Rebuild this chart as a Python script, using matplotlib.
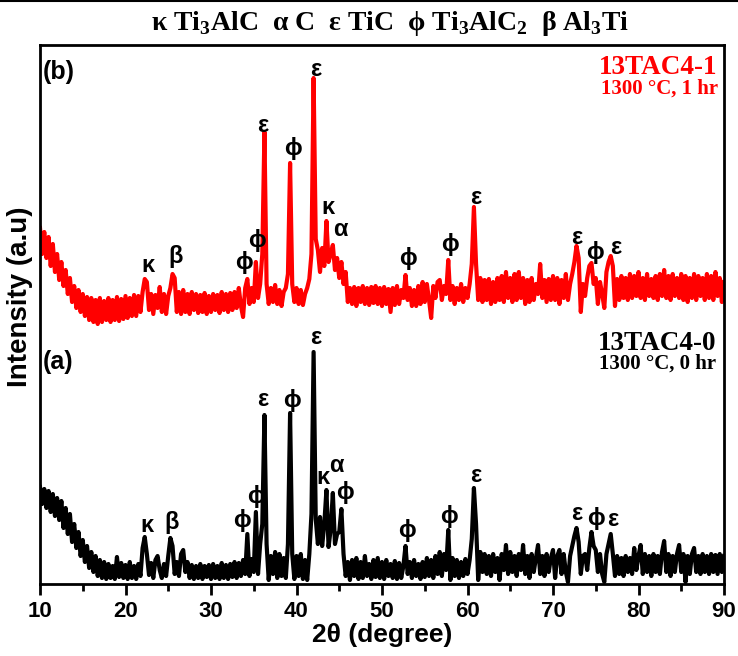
import numpy as np
import matplotlib
matplotlib.use("Agg")
import matplotlib.pyplot as plt
from matplotlib.lines import Line2D

plt.rcParams['font.family'] = ['Liberation Sans', 'DejaVu Sans']
plt.rcParams['mathtext.fontset'] = 'custom'
plt.rcParams['mathtext.rm'] = 'Liberation Serif:bold'
plt.rcParams['mathtext.bf'] = 'Liberation Serif:bold'

# ---- data (2theta scan, step 0.25 deg) ----
two_theta = np.arange(10.0, 90.0001, 0.25)

intensity_a = [  # 13TAC4-0, 1300 C, 0 hr (black)
    97, 80, 95, 76, 93, 72, 90, 68, 86, 64, 83, 56, 76, 50, 70, 42, 60, 36, 52, 28,
    44, 22, 38, 16, 32, 12, 28, 8, 24, 6, 22, 5, 20, 6, 18, 5, 27, 7, 21, 6,
    19, 5, 22, 6, 18, 5, 20, 8, 36, 47, 30, 9, 21, 6, 24, 28, 14, 6, 20, 8,
    28, 46, 38, 10, 22, 8, 30, 34, 12, 22, 6, 19, 5, 18, 6, 20, 5, 18, 7, 19,
    5, 20, 6, 18, 5, 21, 6, 19, 5, 20, 7, 22, 6, 21, 8, 24, 10, 50, 8, 25,
    12, 72, 10, 40, 60, 169, 40, 4, 28, 10, 32, 6, 30, 8, 26, 6, 40, 171, 30, 5,
    28, 8, 30, 5, 24, 4, 30, 70, 232, 65, 40, 67, 38, 60, 94, 37, 55, 91, 40, 50,
    52, 75, 30, 8, 22, 4, 24, 8, 26, 5, 22, 6, 28, 8, 20, 5, 24, 7, 26, 6,
    22, 5, 24, 8, 20, 6, 23, 5, 21, 6, 18, 38, 10, 22, 6, 24, 8, 20, 5, 22,
    7, 26, 8, 24, 6, 28, 10, 32, 8, 30, 14, 54, 4, 26, 8, 24, 6, 22, 8, 25,
    10, 24, 45, 96, 60, 4, 32, 12, 30, 10, 28, 8, 30, 12, 26, 4, 30, 14, 39, 10,
    32, 12, 28, 8, 30, 14, 39, 10, 28, 6, 30, 12, 26, 39, 10, 28, 8, 30, 12, 26,
    34, 6, 28, 34, 10, 30, 12, 2, 28, 38, 48, 56, 42, 10, 28, 30, 14, 36, 52, 38,
    34, 12, 30, 10, 2, 30, 40, 50, 30, 8, 28, 10, 26, 8, 28, 12, 26, 10, 36, 14,
    28, 39, 10, 30, 12, 28, 8, 30, 12, 28, 10, 32, 43, 12, 30, 8, 28, 12, 30, 39,
    12, 30, 2, 28, 10, 30, 36, 12, 28, 10, 30, 12, 28, 10, 30, 12, 29, 10, 30, 12,
    28,
]

intensity_b = [  # 13TAC4-1, 1300 C, 1 hr (red, stacked)
    356, 330, 352, 326, 347, 318, 340, 312, 330, 304, 322, 298, 314, 290, 306, 282, 298, 276, 294, 272,
    290, 268, 287, 264, 286, 262, 284, 260, 286, 262, 283, 264, 286, 262, 284, 264, 287, 263, 285, 265,
    288, 266, 286, 268, 289, 268, 288, 272, 292, 305, 302, 274, 290, 270, 289, 276, 297, 272, 290, 270,
    288, 296, 310, 306, 272, 292, 270, 294, 272, 290, 270, 292, 274, 290, 271, 289, 272, 291, 270, 288,
    272, 290, 274, 289, 271, 292, 274, 290, 272, 291, 274, 292, 276, 296, 278, 267, 296, 305, 280, 296,
    282, 322, 286, 300, 330, 452, 300, 280, 296, 282, 299, 280, 294, 278, 292, 296, 310, 421, 300, 282,
    296, 280, 294, 279, 290, 296, 305, 330, 506, 345, 334, 312, 336, 318, 363, 322, 330, 339, 314, 326,
    306, 322, 300, 312, 282, 296, 280, 297, 278, 296, 282, 298, 280, 296, 279, 297, 281, 298, 280, 296,
    278, 297, 280, 295, 272, 296, 279, 298, 280, 294, 286, 309, 284, 296, 278, 294, 278, 298, 280, 302,
    282, 300, 284, 266, 298, 286, 302, 304, 284, 298, 290, 324, 284, 298, 280, 296, 284, 300, 282, 296,
    286, 300, 320, 377, 320, 284, 306, 282, 304, 284, 305, 280, 302, 282, 306, 284, 308, 282, 312, 286,
    306, 282, 310, 284, 312, 286, 306, 280, 304, 282, 306, 284, 300, 290, 320, 286, 304, 282, 305, 284,
    308, 284, 306, 280, 304, 286, 310, 284, 300, 310, 322, 338, 326, 272, 300, 288, 306, 318, 321, 300,
    306, 280, 302, 290, 276, 312, 322, 328, 318, 278, 305, 284, 308, 286, 306, 284, 310, 286, 308, 288,
    312, 286, 306, 284, 310, 288, 305, 286, 308, 284, 310, 288, 314, 286, 308, 284, 310, 288, 306, 286,
    310, 284, 308, 282, 306, 286, 310, 284, 308, 288, 306, 284, 310, 286, 308, 284, 312, 288, 306, 282,
    302,
]

assert len(intensity_a) == len(two_theta) and len(intensity_b) == len(two_theta)

# phase labels: symbol, 2theta, intensity level
labels_a_sym = ['κ', 'β', 'ϕ', 'ϕ', 'ε', 'ϕ', 'ε', 'κ', 'α', 'ϕ', 'ϕ', 'ϕ', 'ε', 'ε', 'ϕ', 'ε']
labels_a_x = [22.5, 25.4, 33.6, 35.3, 36.1, 39.5, 42.2, 43.1, 44.7, 45.7, 52.9, 57.8, 61.0, 72.8, 75.0, 77.0]
labels_a_y = [59, 61, 63, 88, 184, 184, 246, 106, 119, 91, 54, 67, 109, 71, 66, 64]

labels_b_sym = ['κ', 'β', 'ϕ', 'ϕ', 'ε', 'ϕ', 'ε', 'κ', 'α', 'ϕ', 'ϕ', 'ε', 'ε', 'ϕ', 'ε']
labels_b_x = [22.6, 25.9, 33.8, 35.4, 36.1, 39.6, 42.2, 43.7, 45.1, 53.0, 58.0, 61.0, 72.8, 74.9, 77.3]
labels_b_y = [319, 327, 322, 343, 459, 436, 514, 377, 354, 326, 339, 386, 347, 332, 337]

# ---- figure ----
fig = plt.figure(figsize=(7.38, 6.56), dpi=100)
ax = fig.add_axes([40 / 738, 72 / 656, 684 / 738, 539 / 656])

ax.plot(two_theta, intensity_a, color='black', lw=3.0, solid_joinstyle='round')
ax.plot(two_theta, intensity_b, color='#ff0000', lw=3.0, solid_joinstyle='round')

greek_font = dict(fontsize=17, fontweight='bold', family=['Liberation Sans', 'DejaVu Sans'],
                  ha='center', va='center')
for s, x, y in zip(labels_a_sym, labels_a_x, labels_a_y):
    ax.text(x, y, s, color='black', **greek_font)
for s, x, y in zip(labels_b_sym, labels_b_x, labels_b_y):
    ax.text(x, y, s, color='black', **greek_font)

ax.set_xlim(10, 90)
ax.set_ylim(0, 539)
ax.set_yticks([])
ax.set_xticks(np.arange(10, 91, 10))
ax.set_xticks(np.arange(15, 90, 10), minor=True)
ax.tick_params(axis='x', which='major', direction='out', length=8, width=2,
               labelsize=16, pad=4)
ax.tick_params(axis='x', which='minor', direction='out', length=5, width=2)
for lab in ax.get_xticklabels():
    lab.set_fontweight('bold')
for sp in ax.spines.values():
    sp.set_linewidth(2)

ax.set_xlabel('2θ (degree)', fontsize=19, fontweight='bold', labelpad=1)
fig.text(20 / 738, 1 - 297 / 656, 'Intensity (a.u)', rotation=90, fontsize=20,
         fontweight='bold', ha='center', va='center')

# panel tags
ax.text(0.004, 0.95, '(b)', transform=ax.transAxes, fontsize=18, fontweight='bold',
        ha='left', va='center')
ax.text(0.004, 0.412, '(a)', transform=ax.transAxes, fontsize=18, fontweight='bold',
        ha='left', va='center')

serif = ['Liberation Serif', 'DejaVu Serif']
ax.text(0.991, (584 - 67) / 539, '13TAC4-1', transform=ax.transAxes, fontsize=19.5,
        fontweight='bold', family=serif, color='#ff0000', ha='right', va='center')
ax.text(0.991, (584 - 89) / 539, '1300 °C, 1 hr', transform=ax.transAxes, fontsize=15,
        fontweight='bold', family=serif, color='#ff0000', ha='right', va='center')
ax.text(0.989, (584 - 343) / 539, '13TAC4-0', transform=ax.transAxes, fontsize=19.5,
        fontweight='bold', family=serif, color='black', ha='right', va='center')
ax.text(0.989, (584 - 364) / 539, '1300 °C, 0 hr', transform=ax.transAxes, fontsize=15,
        fontweight='bold', family=serif, color='black', ha='right', va='center')

title = (r'κ Ti$_\mathbf{3}$AlC  α C  ε TiC  ϕ Ti$_\mathbf{3}$AlC$_\mathbf{2}$  '
         r'β Al$_\mathbf{3}$Ti')
fig.text(390 / 738, 1 - 23 / 656, title, fontsize=20, fontweight='bold', family=serif,
         ha='center', va='center')

fig.add_artist(Line2D([0, 1], [1 - 1 / 656, 1 - 1 / 656], color='black', lw=1.5,
                      transform=fig.transFigure))

fig.savefig('out.png', dpi=100)
